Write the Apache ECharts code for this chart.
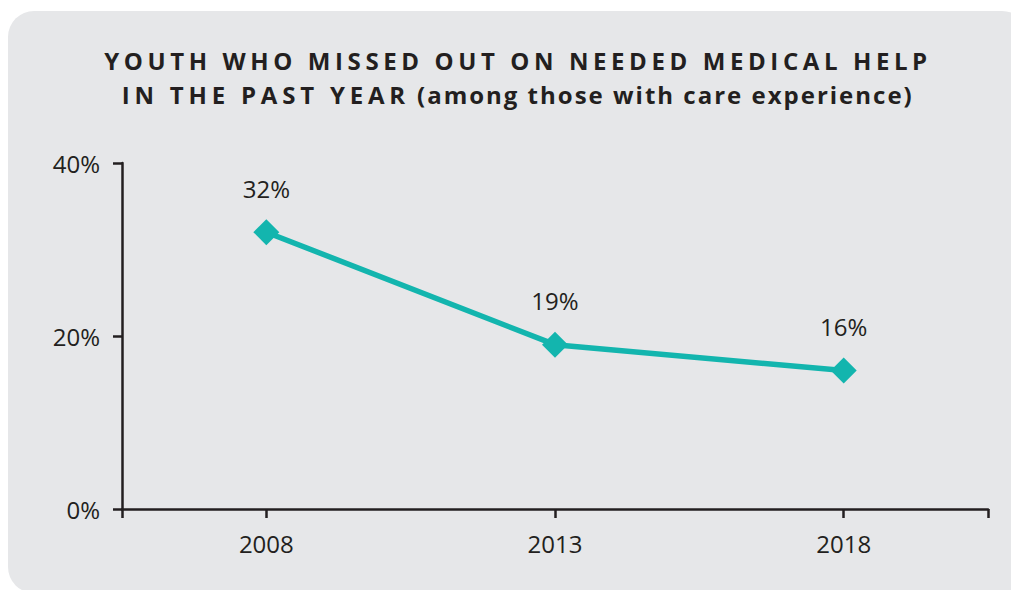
<!DOCTYPE html>
<html>
<head>
<meta charset="utf-8">
<script src="https://cdn.jsdelivr.net/npm/echarts@6/dist/echarts.min.js"></script>
<style>
  html, body { margin: 0; padding: 0; background: #ffffff; }
  #chart { width: 1011px; height: 590px; }
</style>
</head>
<body>
<div id="chart"></div>
<script>
// Survey years and share of youth (with care experience) who missed needed medical help
const years = [2008, 2013, 2018];
const missedPct = [32, 19, 16];
const yTicks = [0, 20, 40];

const titleLine1 = 'YOUTH WHO MISSED OUT ON NEEDED MEDICAL HELP';
const titleLine2a = 'IN THE PAST YEAR';
const titleLine2b = '(among those with care experience)';

const ink = '#231f20';
const teal = '#13b5ae';
const font = '"Open Sans", "Noto Sans", sans-serif';
const titleFont = 'bold 24px "Open Sans", "Noto Sans", sans-serif';

// letter spacing (px) applied to each title piece after rendering
const spacing = {};
spacing[titleLine1] = 4.6;
spacing[titleLine2a] = 4.8;
spacing[titleLine2b] = 2.0;

const chart = echarts.init(document.getElementById('chart'), null, { renderer: 'svg' });

chart.setOption({
  backgroundColor: '#ffffff',
  animation: false,
  graphic: [
    {
      type: 'rect',
      z: -10,
      shape: { x: 8, y: 11, width: 1020, height: 582, r: 26 },
      style: { fill: '#e6e7e9' }
    },
    {
      type: 'text', x: 518, y: 60,
      style: { text: titleLine1, font: titleFont, fill: ink, align: 'center', verticalAlign: 'middle' }
    },
    {
      type: 'text', x: 410, y: 94,
      style: { text: titleLine2a, font: titleFont, fill: ink, align: 'right', verticalAlign: 'middle' }
    },
    {
      type: 'text', x: 417, y: 94,
      style: { text: titleLine2b, font: titleFont, fill: ink, align: 'left', verticalAlign: 'middle' }
    }
  ],
  grid: { left: 122, right: 23, top: 163, bottom: 81, containLabel: false },
  xAxis: {
    type: 'value',
    min: 2005.5,
    max: 2020.5,
    splitLine: { show: false },
    axisLine: { show: true, lineStyle: { color: ink, width: 2.5 } },
    axisTick: {
      show: true, length: 9, inside: false,
      customValues: [2005.5].concat(years, [2020.5]),
      lineStyle: { color: ink, width: 2.5 }
    },
    axisLabel: {
      customValues: years,
      margin: 22,
      color: ink, fontFamily: font, fontSize: 24,
      formatter: v => String(v)
    }
  },
  yAxis: {
    type: 'value',
    min: 0,
    max: 40,
    interval: 20,
    splitLine: { show: false },
    axisLine: { show: true, lineStyle: { color: ink, width: 2.5 } },
    axisTick: {
      show: true, length: 9,
      customValues: yTicks,
      lineStyle: { color: ink, width: 2.5 }
    },
    axisLabel: {
      customValues: yTicks,
      margin: 22,
      color: ink, fontFamily: font, fontSize: 24,
      formatter: v => v + '%'
    }
  },
  series: [{
    type: 'line',
    data: years.map((y, i) => [y, missedPct[i]]),
    symbol: 'diamond',
    symbolSize: 26,
    lineStyle: { color: teal, width: 5.5 },
    itemStyle: { color: teal },
    label: {
      show: true,
      position: 'top',
      distance: 19,
      color: ink, fontFamily: font, fontSize: 24,
      formatter: p => p.value[1] + '%'
    }
  }]
});

// SVG text supports letter-spacing; apply it to the title pieces
function spaceTitle() {
  document.querySelectorAll('#chart svg text').forEach(t => {
    const s = spacing[t.textContent];
    if (s !== undefined) t.setAttribute('letter-spacing', s + 'px');
  });
}
spaceTitle();
chart.on('finished', spaceTitle);
</script>
</body>
</html>
